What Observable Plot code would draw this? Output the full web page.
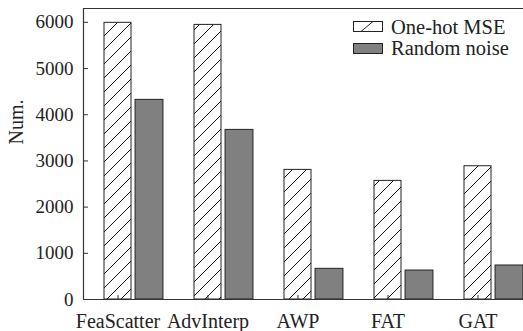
<!DOCTYPE html>
<html><head><meta charset="utf-8">
<script src="https://cdn.jsdelivr.net/npm/d3@7"></script>
<script src="https://cdn.jsdelivr.net/npm/@observablehq/plot@0.6"></script>
<style>
body{margin:0;background:#fff;}
#wrap{position:relative;width:523px;height:331px;overflow:hidden;font-family:"Liberation Serif","Times New Roman",serif;}
#legend{position:absolute;left:353px;top:16px;}
.row{display:flex;align-items:center;height:21.5px;font-size:20.5px;color:#222;white-space:nowrap}
.row svg{margin-right:7px;flex:none;display:block}
.row span{display:block;line-height:20px;height:20px}
</style></head><body><div id="wrap"><div id="legend"></div></div>
<script>
const categories = ["FeaScatter", "AdvInterp", "AWP", "FAT", "GAT"];
const oneHotMSE = [5990, 5945, 2806, 2568, 2885];
const randomNoise = [4322, 3672, 664, 627, 736];
const seriesNames = ["One-hot MSE", "Random noise"];
const yTicks = [0, 1000, 2000, 3000, 4000, 5000, 6000];
const yMax = 6300;
const yLabel = "Num.";

const W = 523, H = 331, mL = 83, mR = 0, mT = 8, mB = 32;
const plotW = W - mL - mR, plotH = H - mT - mB;
const unit = 90; // px per category step
const xDomain = [1 - 34.5 / unit, categories.length + 45.5 / unit];

const rows = categories.flatMap((c, k) => [
  {cat: c, i: k + 1, series: 0, value: oneHotMSE[k]},
  {cat: c, i: k + 1, series: 1, value: randomNoise[k]}
]);
const idx = categories.map((c, k) => k + 1);
const ink = "#222";

const svg = Plot.plot({
  width: W, height: H,
  marginLeft: mL, marginRight: mR, marginTop: mT, marginBottom: mB,
  style: {fontFamily: '"Liberation Serif","Times New Roman",serif', background: "#fff", color: ink, overflow: "hidden"},
  x: {type: "linear", domain: xDomain, axis: null},
  y: {domain: [0, yMax], axis: null},
  marks: [
    Plot.rect(rows.filter(d => d.series === 0), {
      x1: d => d.i - 0.15, x2: d => d.i + 0.15, y1: 0, y2: "value",
      fill: "url(#hatch)", stroke: ink, strokeWidth: 1
    }),
    Plot.rect(rows.filter(d => d.series === 1), {
      x1: d => d.i + 0.195, x2: d => d.i + 0.505, y1: 0, y2: "value",
      fill: "#808080", stroke: ink, strokeWidth: 1
    }),
    Plot.ruleY([0], {stroke: "#333", strokeWidth: 1.2}),
    Plot.ruleY([yMax], {stroke: "#333", strokeWidth: 1.2}),
    Plot.ruleX([xDomain[0]], {stroke: "#333", strokeWidth: 1.2}),
    Plot.ruleY(yTicks, {y: d => d, insetRight: plotW - 5, stroke: "#333"}),
    Plot.ruleX(idx, {x: d => d, insetTop: plotH - 4, stroke: "#333"}),
    Plot.axisY(yTicks, {tickSize: 0, tickPadding: 10, fontSize: 19, fill: ink, label: null, tickFormat: d => String(d)}),
    Plot.axisX(idx, {tickSize: 0, tickPadding: 14, fontSize: 20, fill: ink, label: null, tickFormat: i => categories[i - 1]}),
    Plot.text([yLabel], {frameAnchor: "left", rotate: -90, dx: -66.5, dy: -9.5, fontSize: 20, lineAnchor: "middle", fill: ink})
  ]
});

const defs = d3.select(svg).insert("defs", ":first-child");
const pat = defs.append("pattern").attr("id", "hatch").attr("patternUnits", "userSpaceOnUse")
  .attr("width", 14).attr("height", 14);
pat.append("rect").attr("width", 14).attr("height", 14).attr("fill", "#fff");
pat.append("path").attr("d", "M-1,1 L1,-1 M0,14 L14,0 M13,15 L15,13")
  .attr("stroke", "#111").attr("stroke-width", 1).attr("fill", "none");

document.getElementById("wrap").prepend(svg);

const legend = document.getElementById("legend");
seriesNames.forEach((name, k) => {
  const row = document.createElement("div");
  row.className = "row";
  const sw = k === 0
    ? '<svg width="31" height="11"><rect x="0.5" y="0.5" width="29" height="10" fill="#fff" stroke="#222"/><line x1="8" y1="10.5" x2="20" y2="0.5" stroke="#222"/></svg>'
    : '<svg width="31" height="11"><rect x="0.5" y="0.5" width="29" height="10" fill="#808080" stroke="#222"/></svg>';
  row.innerHTML = sw + "<span>" + name + "</span>";
  legend.appendChild(row);
});
</script>
</body></html>
